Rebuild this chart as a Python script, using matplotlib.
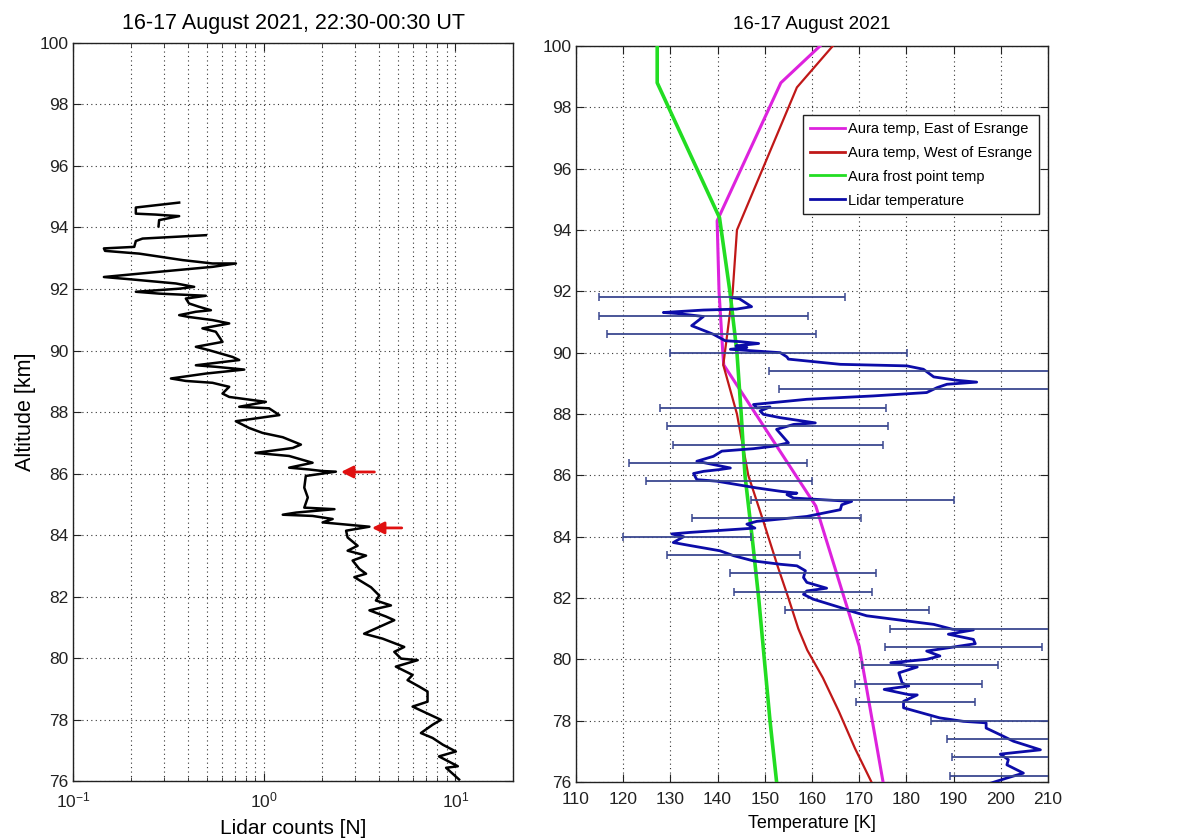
import numpy as np
import matplotlib
matplotlib.use("Agg")
import matplotlib.pyplot as plt
from matplotlib.lines import Line2D
from matplotlib.ticker import LogLocator, MultipleLocator, NullFormatter

plt.rcParams['font.family'] = ['Liberation Sans', 'DejaVu Sans']

# ---------------- Left panel: lidar counts ----------------
counts_alt = [94.81, 94.65, 94.45, 94.42, 94.40, 94.37, 94.24, 94.04, np.nan,
              93.75, 93.64, 93.56, 93.37, 93.32, 93.24, 93.15, 93.07, 92.94, 92.83, 92.83,
              92.72, 92.56, 92.39, 92.31, 92.23, 92.18, 92.07, 92.01, 91.91, 91.85,
              91.78, 91.69, 91.53, 91.42, 91.31, 91.26, 91.15, 91.09, 90.99, 90.88,
              90.72, 90.61, 90.28, 90.12, 90.01, 89.79, 89.69, 89.52, 89.47, 89.38,
              89.25, 89.09, 89.01, 88.95, 88.87, 88.82, 88.60, 88.49, 88.33, 88.17,
              88.12, 87.90, 87.70, 87.48, 87.32, 87.18, 86.94, 86.83, 86.67, 86.57,
              86.35, 86.19, 86.13, 86.08, 86.06, 85.92, 85.54, 85.22, 84.89, 84.84,
              84.73, 84.66, 84.62, 84.52, 84.41, 84.27, 84.14, 83.92, 83.65, 83.49,
              83.33, 83.17, 82.90, 82.74, 82.63, 82.30, 82.03, 81.87, 81.71, 81.55,
              81.35, 81.23, 80.79, 80.63, 80.36, 80.20, 79.98, 79.93, 79.72, 79.45,
              79.28, 79.07, 78.91, 78.58, 78.42, 77.99, 77.83, 77.56, 77.40, 77.18,
              76.96, 76.80, 76.48, 76.43, 76.05]
counts_val = [0.359, 0.213, 0.213, 0.271, 0.300, 0.359, 0.282, 0.280, np.nan,
              0.495, 0.231, 0.213, 0.209, 0.145, 0.147, 0.222, 0.271, 0.374, 0.536, 0.711,
              0.536, 0.282, 0.145, 0.204, 0.282, 0.345, 0.430, 0.359, 0.213, 0.282,
              0.495, 0.389, 0.404, 0.457, 0.526, 0.439, 0.359, 0.404, 0.536, 0.656,
              0.475, 0.558, 0.605, 0.439, 0.515, 0.683, 0.740, 0.439, 0.558, 0.786,
              0.495, 0.325, 0.389, 0.536, 0.605, 0.656, 0.605, 0.656, 1.02, 0.740,
              1.06, 1.20, 0.71, 0.834, 0.98, 1.25, 1.556, 1.41, 0.90, 1.35,
              1.79, 1.35, 1.72, 2.02, 2.37, 1.65, 1.62, 1.69, 1.62, 2.33,
              1.47, 1.25, 1.79, 2.28, 2.02, 3.55, 2.68, 2.73, 3.08, 2.73,
              3.41, 2.90, 3.14, 3.41, 2.96, 3.62, 4.00, 3.84, 4.60, 3.55,
              4.33, 4.79, 3.33, 4.16, 5.40, 4.79, 5.20, 6.35, 4.88, 5.97,
              5.62, 6.47, 7.15, 7.15, 5.97, 8.40, 7.60, 6.60, 7.60, 8.60,
              10.06, 8.20, 10.30, 8.94, 10.45]

arrow_alt = [86.05, 84.23]
arrow_tip = [2.52, 3.66]
arrow_tail = [3.77, 5.24]

# ---------------- Right panel: temperatures ----------------
east_alt = [100.0, 98.8, 94.3, 92.0, 90.0, 89.6, 85.0, 80.43, 75.7]
east_T = [161.7, 153.4, 139.9, 140.3, 141.1, 141.3, 160.8, 170.0, 175.4]

west_alt = [100.0, 98.65, 94.0, 92.0, 89.6, 88.0, 86.0, 84.5, 83.0, 82.0, 81.0,
            80.3, 79.4, 78.3, 77.1, 76.0, 75.7]
west_T = [164.4, 156.8, 144.1, 143.2, 141.2, 144.1, 146.5, 149.7, 152.8, 155.0, 157.1,
          159.0, 162.3, 165.7, 169.1, 172.6, 173.5]

frost_alt = [100.0, 98.8, 94.4, 92.0, 90.0, 88.0, 86.0, 84.0, 82.0, 80.0, 78.0, 76.0, 75.7]
frost_T = [127.2, 127.2, 140.4, 142.6, 144.1, 145.0, 145.8, 147.3, 148.7, 149.9, 151.1, 152.5, 152.7]

lidar_alt = [91.80, 91.76, 91.50, 91.42, 91.39, 91.31, 91.28, 91.18, 90.88, 90.60,
             90.39, 90.36, 90.30, 90.22, 90.17, 90.11, 90.00, 89.86, 89.79, 89.73,
             89.62, 89.57, 89.46, 89.21, 89.10, 89.04, 88.97, 88.86, 88.70, 88.59,
             88.48, 88.31, 88.20, 88.23, 88.10, 87.99, 87.88, 87.71, 87.66, 87.50,
             87.06, 86.95, 86.87, 86.79, 86.62, 86.46, 86.24, 86.19, 86.13, 86.06,
             85.86, 85.81, 85.59, 85.48, 85.42, 85.37, 85.26, 85.15, 85.04, 84.88,
             84.66, 84.50, 84.41, 84.28, 84.14, 84.09, 84.00, 83.81, 83.71, 83.54,
             83.38, 83.21, 83.10, 83.05, 82.89, 82.67, 82.51, 82.32, 82.23, 82.12,
             81.96, 81.69, 81.58, 81.42, 81.14, 80.98, 80.96, 80.82, 80.65, 80.51,
             80.27, 80.11, 80.00, 79.89, 79.75, 79.56, 79.23, 79.13, 79.02, 78.85,
             78.84, 78.63, 78.42, 78.09, 77.98, 77.93, 77.76, 77.54, 77.33, 77.05,
             76.91, 76.73, 76.56, 76.29, 76.13, 75.96]
lidar_T = [143.0, 144.6, 147.2, 144.0, 137.0, 128.5, 131.3, 137.0, 134.5, 139.1,
           141.6, 144.8, 148.7, 143.9, 146.2, 142.7, 153.3, 154.7, 155.0, 158.9,
           166.0, 180.1, 183.6, 185.8, 190.7, 194.9, 188.6, 186.5, 184.3, 173.0,
           158.9, 147.6, 148.3, 151.1, 149.0, 149.7, 153.3, 160.7, 156.1, 152.5,
           155.0, 151.8, 147.6, 140.9, 139.1, 135.6, 142.7, 140.5, 137.0, 134.9,
           135.6, 139.8, 148.3, 153.3, 156.8, 154.7, 156.1, 168.4, 166.3, 166.0,
           158.9, 148.3, 146.2, 147.9, 134.2, 130.3, 132.8, 130.6, 134.2, 140.5,
           143.4, 147.6, 153.3, 156.8, 158.6, 158.2, 158.9, 163.1, 158.9, 158.2,
           160.3, 166.0, 168.1, 171.6, 185.8, 189.8, 194.2, 188.9, 194.2, 194.6,
           184.3, 187.1, 184.3, 176.7, 182.3, 178.4, 179.1, 180.5, 175.3, 180.5,
           182.3, 179.4, 179.4, 187.1, 192.0, 196.9, 196.9, 199.9, 202.7, 208.4,
           199.9, 201.6, 201.3, 204.8, 201.3, 197.8]

err_alt = [91.8, 91.2, 90.6, 90.0, 89.4, 88.8, 88.2, 87.6, 87.0, 86.4, 85.8, 85.2, 84.6,
           84.0, 83.4, 82.8, 82.2, 81.6, 81.0, 80.4, 79.8, 79.2, 78.6, 78.0, 77.4, 76.8, 76.2]
err_lo = [114.9, 114.8, 116.5, 129.9, 150.9, 153.0, 127.8, 129.2, 130.5, 121.2, 124.8, 147.0, 134.6,
          119.9, 129.2, 142.7, 143.4, 154.3, 176.6, 175.5, 170.6, 169.2, 169.4, 185.2, 188.7, 189.6, 189.3]
err_hi = [167.0, 159.1, 160.9, 180.2, 225.0, 227.0, 175.7, 176.1, 175.0, 158.9, 160.1, 190.1, 170.3,
          147.0, 157.5, 173.6, 172.8, 184.8, 212.0, 208.7, 199.4, 196.1, 194.6, 212.0, 221.0, 212.0, 217.0]

legend_labels = ['Aura temp, East of Esrange', 'Aura temp, West of Esrange',
                 'Aura frost point temp', 'Lidar temperature']

c_east = '#dd22dd'
c_west = '#c01818'
c_frost = '#22dd22'
c_lidar = '#0c0ca8'
c_err = '#3a4890'

fig = plt.figure(figsize=(11.86, 8.38), dpi=100)
ax1 = fig.add_axes([0.0616, 0.068, 0.3709, 0.8807])
ax2 = fig.add_axes([0.4857, 0.0668, 0.3979, 0.8783])

grid_kw = dict(color='#333333', linestyle=(0, (1, 3)), linewidth=0.8)

# Left panel
ax1.plot(counts_val, counts_alt, color='black', lw=1.8)
for a, tip, tail in zip(arrow_alt, arrow_tip, arrow_tail):
    ax1.annotate('', xy=(tip, a), xytext=(tail, a),
                 arrowprops=dict(arrowstyle='-|>', color='#e01010', lw=2.0,
                                 mutation_scale=18, shrinkA=0, shrinkB=0))
ax1.set_xscale('log')
ax1.set_xlim(0.1, 20)
ax1.set_ylim(76, 100)
ax1.yaxis.set_major_locator(MultipleLocator(2))
ax1.xaxis.set_major_locator(LogLocator(base=10, numticks=10))
ax1.xaxis.set_minor_locator(LogLocator(base=10, subs=np.arange(2, 10), numticks=20))
ax1.xaxis.set_minor_formatter(NullFormatter())
ax1.grid(True, which='major', **grid_kw)
ax1.grid(True, which='minor', axis='x', **grid_kw)
ax1.set_title('16-17 August 2021, 22:30-00:30 UT', fontsize=15.5, pad=10)
ax1.set_xlabel('Lidar counts [N]', fontsize=15, labelpad=6)
ax1.set_ylabel('Altitude [km]', fontsize=15.5, labelpad=2)

# Right panel
ax2.plot(east_T, east_alt, color=c_east, lw=2.2, zorder=3)
ax2.plot(west_T, west_alt, color=c_west, lw=1.6, zorder=3)
ax2.plot(frost_T, frost_alt, color=c_frost, lw=2.6, zorder=3)
ax2.plot(lidar_T, lidar_alt, color=c_lidar, lw=2.0, zorder=4)
mid = [(l + h) / 2 for l, h in zip(err_lo, err_hi)]
half = [(h - l) / 2 for l, h in zip(err_lo, err_hi)]
ax2.errorbar(mid, err_alt, xerr=half, fmt='none', ecolor=c_err, elinewidth=1.3,
             capsize=3, capthick=1.1, zorder=4)
ax2.set_xlim(110, 210)
ax2.set_ylim(76, 100)
ax2.xaxis.set_major_locator(MultipleLocator(10))
ax2.yaxis.set_major_locator(MultipleLocator(2))
ax2.grid(True, which='major', **grid_kw)
ax2.set_title('16-17 August 2021', fontsize=13.5, pad=12)
ax2.set_xlabel('Temperature [K]', fontsize=13, labelpad=6)

handles = [Line2D([], [], color=c, lw=2) for c in (c_east, c_west, c_frost, c_lidar)]
leg = ax2.legend(handles, legend_labels, loc='upper right', bbox_to_anchor=(0.981, 0.906),
                 fontsize=10.5, frameon=True, fancybox=False, framealpha=1,
                 edgecolor='#222222', handlelength=2.4, handletextpad=0.25,
                 borderpad=0.45, labelspacing=0.68, borderaxespad=0)
leg.get_frame().set_linewidth(1.0)

for ax in (ax1, ax2):
    ax.tick_params(which='both', direction='in', top=True, right=True, labelsize=12.5,
                   colors='#222222')
    ax.tick_params(which='major', length=6)
    ax.tick_params(which='minor', length=3)
    ax.tick_params(axis='x', pad=7)
    for s in ax.spines.values():
        s.set_linewidth(1.0)
        s.set_color('#222222')

fig.savefig('out.png', dpi=100)
